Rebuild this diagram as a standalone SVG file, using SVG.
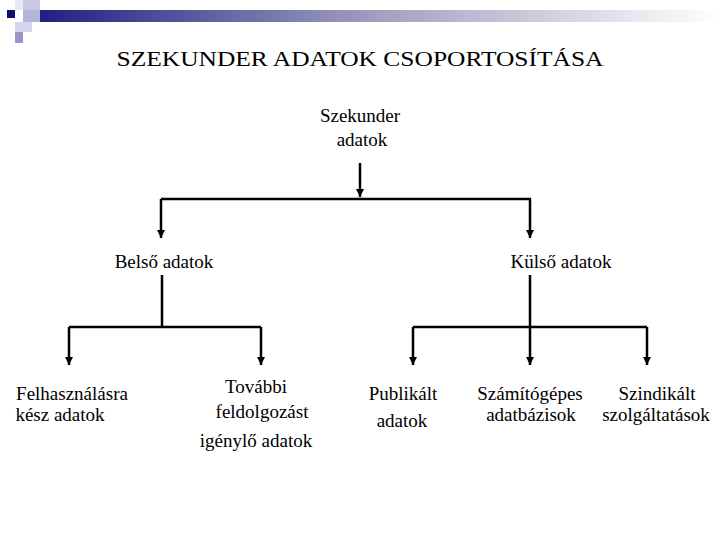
<svg xmlns="http://www.w3.org/2000/svg" width="720" height="540" viewBox="0 0 720 540">
<defs>
<linearGradient id="bar" x1="0" y1="0" x2="1" y2="0">
<stop offset="0" stop-color="#1c1c82"/><stop offset="0.5" stop-color="#a0a0c0"/><stop offset="1" stop-color="#ffffff"/>
</linearGradient>
<marker id="arr" viewBox="0 0 8 8" refX="4" refY="8" markerWidth="8" markerHeight="8" orient="0" markerUnits="userSpaceOnUse"><path d="M0,0 L8,0 L4,8 Z" fill="#000"/></marker>
</defs>
<style>
.t{font-size:22px}
.l{font-size:19px}
.c{fill:none;stroke:#000;stroke-width:2.5}
.a{marker-end:url(#arr)}
</style>
<rect width="720" height="540" fill="#fff"/>
<g id="decor">
<rect x="32" y="10" width="688" height="12" fill="url(#bar)"/>
<rect x="23" y="0" width="17" height="10" fill="#c8c8e4"/>
<rect x="15" y="0" width="8" height="10" fill="#e8e8f4"/>
<rect x="7" y="10" width="8" height="8" fill="#10106e"/>
<rect x="23" y="10" width="17" height="12" fill="#b4b4d8"/>
<rect x="15" y="22" width="17" height="10" fill="#d4d4ec"/>
<rect x="15" y="32" width="8" height="11" fill="#9898c8"/>
</g>
<g font-family="Liberation Serif, DejaVu Serif, serif" text-anchor="middle" fill="#000">
<text class="t" x="360" y="66" textLength="487" lengthAdjust="spacingAndGlyphs">SZEKUNDER ADATOK CSOPORTOSÍTÁSA</text>
<g id="szekunder"><text class="l" x="360" y="122">Szekunder</text><text class="l" x="362" y="146">adatok</text></g>
<g id="belso"><text class="l" x="164" y="268">Belső adatok</text></g>
<g id="kulso"><text class="l" x="561" y="268">Külső adatok</text></g>
<g id="felh"><text class="l" x="72" y="400">Felhasználásra</text><text class="l" x="60" y="421">kész adatok</text></g>
<g id="tovabbi"><text class="l" x="256" y="393">További</text><text class="l" x="262" y="418">feldolgozást</text><text class="l" x="256" y="447">igénylő adatok</text></g>
<g id="publ"><text class="l" x="403" y="400">Publikált</text><text class="l" x="402" y="427">adatok</text></g>
<g id="szam"><text class="l" x="530" y="400">Számítógépes</text><text class="l" x="531" y="421">adatbázisok</text></g>
<g id="szind"><text class="l" x="657" y="400">Szindikált</text><text class="l" x="656" y="421">szolgáltatások</text></g>
</g>
<g id="connectors">
<path class="c a" d="M360,163 V197"/>
<path class="c" d="M161,199 H531"/>
<path class="c a" d="M161,199 V238" stroke-width="1.5"/>
<path class="c a" d="M530,199 V238"/>
<path class="c" d="M162,275 V327"/>
<path class="c" d="M69,327 H261"/>
<path class="c a" d="M69,327 V365"/>
<path class="c a" d="M261,327 V365"/>
<path class="c" d="M530,275 V327"/>
<path class="c" d="M413,327 H647"/>
<path class="c a" d="M413,327 V365"/>
<path class="c a" d="M530,327 V365"/>
<path class="c a" d="M647,327 V365"/>
</g>
</svg>
